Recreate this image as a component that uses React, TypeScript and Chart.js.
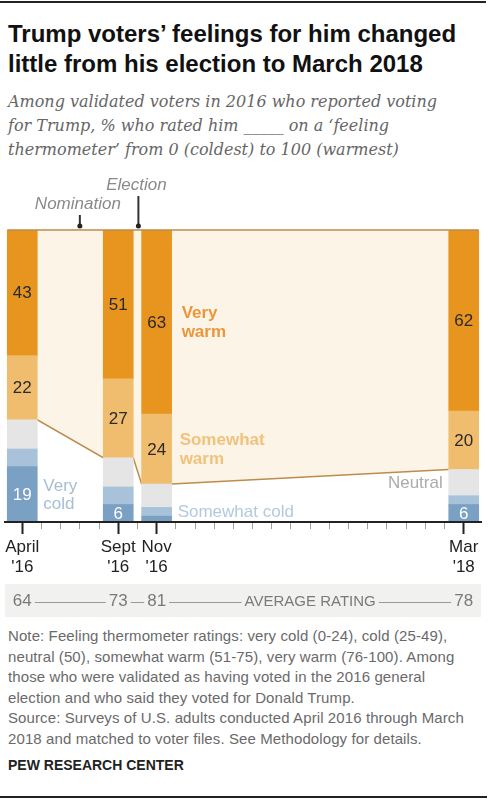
import React, { useEffect, useRef } from "react";
import { Chart, registerables } from "chart.js";

Chart.register(...registerables);

// ---- data ----
const surveyMonths = [3, 8, 10, 26]; // months since Jan 2016
const tickLabels = [["April", "'16"], ["Sept", "'16"], ["Nov", "'16"], ["Mar", "'18"]];
const veryCold = [19, 6, 2, 6];
const cold = [6, 6, 3, 3];
const neutral = [10, 10, 8, 9];
const somewhatWarm = [22, 27, 24, 20];
const veryWarm = [43, 51, 63, 62];
const averageRating = [64, 73, 81, 78];
const averageLabel = "AVERAGE RATING";
const nominationMonth = 6;
const electionMonth = 9.05;

// ---- layout / style ----
const CANVAS_W = 488;
const CANVAS_H = 450;
const PAD_L = 5;
const PAD_R = 7;
const X_MIN = 2.1;
const X_MAX = 26.9;
const BAR_PX = 30;
const PX_PER_UNIT = (CANVAS_W - PAD_L - PAD_R) / (X_MAX - X_MIN);
const HALF = BAR_PX / 2 / PX_PER_UNIT;
const SANS = "'Liberation Sans', Arial, sans-serif";

const series = [
  { label: "Very cold", data: veryCold, color: "#7aa0c3", valueColor: "#ffffff", showValues: true },
  { label: "Somewhat cold", data: cold, color: "#a8c2d9", valueColor: "#333", showValues: false },
  { label: "Neutral", data: neutral, color: "#e5e5e5", valueColor: "#333", showValues: false },
  { label: "Somewhat warm", data: somewhatWarm, color: "#efbd6d", valueColor: "#2a2a2a", showValues: true },
  { label: "Very warm", data: veryWarm, color: "#e8951f", valueColor: "#2a2a2a", showValues: true },
];

const seriesNotes = [
  { si: 4, bar: 2, side: "right", lines: ["Very", "warm"], bold: true, color: "#e9973a", dx: 10 },
  { si: 3, bar: 2, side: "right", lines: ["Somewhat", "warm"], bold: true, color: "#f1c27c", dx: 8 },
  { si: 0, bar: 0, side: "right", lines: ["Very", "cold"], bold: false, color: "#a6bdd3", dx: 6 },
  { si: 1, bar: 2, side: "right", lines: ["Somewhat cold"], bold: false, color: "#b4c9dd", dx: 6 },
  { si: 2, bar: 3, side: "left", lines: ["Neutral"], bold: false, color: "#ababab", dx: 6 },
];

const boundary = surveyMonths.map((_, i) => veryCold[i] + cold[i] + neutral[i]);
const fillPoints: { x: number; y: number }[] = [];
surveyMonths.forEach((m, i) => {
  fillPoints.push({ x: m - HALF, y: boundary[i] });
  fillPoints.push({ x: m + HALF, y: boundary[i] });
});
const monthTicks: number[] = [];
for (let m = surveyMonths[0]; m <= surveyMonths[surveyMonths.length - 1]; m++) monthTicks.push(m);
const isMajor = (v: number) => surveyMonths.indexOf(v) >= 0;

const labelPlugin = {
  id: "segLabels",
  afterDatasetsDraw(chart: any) {
    const ctx = chart.ctx;
    ctx.save();
    ctx.textAlign = "center";
    ctx.textBaseline = "middle";
    ctx.font = `17px ${SANS}`;
    series.forEach((s, di) => {
      if (!s.showValues) return;
      const meta = chart.getDatasetMeta(di);
      meta.data.forEach((el: any, i: number) => {
        const v = s.data[i];
        if (v < 5) return;
        const p = el.getProps(["x", "y", "base"], true);
        ctx.fillStyle = s.valueColor;
        ctx.fillText(String(v), p.x, (p.y + p.base) / 2 + 1);
      });
    });
    seriesNotes.forEach((n) => {
      const el = chart.getDatasetMeta(n.si).data[n.bar];
      const p = el.getProps(["x", "y", "base", "width"], true);
      const cy = (p.y + p.base) / 2;
      ctx.font = `${n.bold ? "bold " : ""}17px ${SANS}`;
      ctx.fillStyle = n.color;
      const lh = 18.5;
      const x = n.side === "right" ? p.x + p.width / 2 + n.dx : p.x - p.width / 2 - n.dx;
      ctx.textAlign = n.side === "right" ? "left" : "right";
      n.lines.forEach((t, k) => {
        ctx.fillText(t, x, cy + (k - (n.lines.length - 1) / 2) * lh + 1);
      });
    });
    const xs = chart.scales.x;
    const top = chart.chartArea.top;
    const events = [
      { name: "Nomination", x: nominationMonth, lineTop: top - 15, textY: top - 26 },
      { name: "Election", x: electionMonth, lineTop: top - 34, textY: top - 45 },
    ];
    events.forEach((e) => {
      const px = xs.getPixelForValue(e.x);
      ctx.strokeStyle = "#333";
      ctx.lineWidth = 2;
      ctx.beginPath();
      ctx.moveTo(px, e.lineTop);
      ctx.lineTo(px, top - 4);
      ctx.stroke();
      ctx.fillStyle = "#222";
      ctx.beginPath();
      ctx.arc(px, top - 4, 2.5, 0, Math.PI * 2);
      ctx.fill();
      ctx.font = `italic 17px ${SANS}`;
      ctx.fillStyle = "#8a8a8a";
      ctx.textAlign = "center";
      ctx.fillText(e.name, px - 2, e.textY);
    });
    ctx.restore();
  },
};

const bandPlugin = {
  id: "ratingBand",
  afterDraw(chart: any) {
    const ctx = chart.ctx;
    const xs = chart.scales.x;
    const a = chart.chartArea;
    const top = a.bottom + 62;
    const bot = a.bottom + 95;
    ctx.save();
    ctx.fillStyle = "#f1f1ef";
    ctx.fillRect(a.left, top, a.right - a.left, bot - top);
    const cy = (top + bot) / 2 + 1;
    ctx.textBaseline = "middle";
    ctx.textAlign = "center";
    const items: { text: string; x: number; font: string }[] = [];
    surveyMonths.forEach((m, i) => {
      items.push({ text: String(averageRating[i]), x: xs.getPixelForValue(m), font: `17px ${SANS}` });
    });
    const n = surveyMonths.length;
    const mid = (xs.getPixelForValue(surveyMonths[n - 2]) + xs.getPixelForValue(surveyMonths[n - 1])) / 2;
    items.splice(n - 1, 0, { text: averageLabel, x: mid, font: `15px ${SANS}` });
    const ext: [number, number][] = [];
    items.forEach((it) => {
      ctx.font = it.font;
      ctx.fillStyle = "#7a7a7a";
      ctx.fillText(it.text, it.x, cy);
      const w = ctx.measureText(it.text).width;
      ext.push([it.x - w / 2, it.x + w / 2]);
    });
    ctx.strokeStyle = "#9a9a9a";
    ctx.lineWidth = 1;
    for (let i = 0; i < ext.length - 1; i++) {
      ctx.beginPath();
      ctx.moveTo(ext[i][1] + 3, Math.round(cy) + 0.5);
      ctx.lineTo(ext[i + 1][0] - 3, Math.round(cy) + 0.5);
      ctx.stroke();
    }
    ctx.restore();
  },
};

function ChartBox() {
  const ref = useRef<HTMLCanvasElement | null>(null);
  useEffect(() => {
    if (!ref.current) return;
    Chart.defaults.font.family = SANS;
    const datasets: any[] = series.map((s) => ({
      type: "bar",
      label: s.label,
      data: surveyMonths.map((m, i) => ({ x: m, y: s.data[i] })),
      backgroundColor: s.color,
      borderWidth: 0,
      barThickness: BAR_PX,
      order: 1,
    }));
    datasets.push({
      type: "line",
      label: "warmArea",
      data: fillPoints,
      stack: "fill",
      fill: "end",
      backgroundColor: "#fdf4e8",
      borderColor: "#bd8c4c",
      borderWidth: 1.5,
      pointRadius: 0,
      tension: 0,
      order: 10,
    });
    datasets.push({
      type: "line",
      label: "topLine",
      data: [
        { x: surveyMonths[0] - HALF, y: 100 },
        { x: surveyMonths[surveyMonths.length - 1] + HALF, y: 100 },
      ],
      stack: "top",
      fill: false,
      borderColor: "#bd8c4c",
      borderWidth: 1.5,
      pointRadius: 0,
      clip: false,
      order: 0,
    });
    const tickVal = (ctx: any) => (ctx.tick ? ctx.tick.value : NaN);
    const chart = new Chart(ref.current, {
      type: "bar",
      data: { datasets },
      options: {
        animation: false,
        responsive: false,
        devicePixelRatio: 1,
        layout: { padding: { left: PAD_L, right: PAD_R, top: 60, bottom: 0 } },
        plugins: { legend: { display: false }, tooltip: { enabled: false } },
        scales: {
          x: {
            type: "linear",
            min: X_MIN,
            max: X_MAX,
            stacked: true,
            offset: false,
            position: "bottom",
            afterBuildTicks: (s: any) => {
              s.ticks = monthTicks.map((v) => ({ value: v }));
            },
            afterFit: (s: any) => {
              s.height = 98;
            },
            ticks: {
              callback: (v: any) => {
                const k = surveyMonths.indexOf(Number(v));
                return k >= 0 ? tickLabels[k] : "";
              },
              autoSkip: false,
              maxRotation: 0,
              padding: 3,
              color: "#222",
              font: { size: 17, family: SANS, lineHeight: 1.2 },
            },
            grid: {
              drawOnChartArea: false,
              offset: false,
              tickLength: 12,
              tickWidth: (c: any) => (isMajor(tickVal(c)) ? 2 : 1),
              tickColor: (c: any) => (isMajor(tickVal(c)) ? "#222" : "#a0a0a0"),
              tickBorderDash: (c: any) => (isMajor(tickVal(c)) ? [] : [6, 40]),
            },
            border: { display: true, color: "#222", width: 2, z: 1 },
          },
          y: { display: false, min: 0, max: 100, stacked: true },
        },
      } as any,
      plugins: [labelPlugin, bandPlugin],
    } as any);
    return () => chart.destroy();
  }, []);
  return <canvas ref={ref} width={CANVAS_W} height={CANVAS_H} style={{ display: "block", width: CANVAS_W, height: CANVAS_H }} />;
}

export default function App() {
  return (
    <div style={{ position: "absolute", left: 0, top: 0, width: 488, height: 800, background: "#fff", overflow: "hidden" }}>
      <div style={{ position: "absolute", left: 0, top: 1, width: 486, height: 2, background: "#222" }} />
      <div
        style={{
          position: "absolute",
          left: 8,
          top: 19,
          fontFamily: SANS,
          fontWeight: "bold",
          fontSize: 24,
          lineHeight: "30px",
          color: "#111",
          whiteSpace: "nowrap",
        }}
      >
        Trump voters’ feelings for him changed
        <br />
        little from his election to March 2018
      </div>
      <div
        style={{
          position: "absolute",
          left: 8,
          top: 90,
          fontFamily: "'DejaVu Serif', serif",
          fontStyle: "italic",
          fontSize: 16,
          lineHeight: "24px",
          color: "#666",
          whiteSpace: "nowrap",
        }}
      >
        Among validated voters in 2016 who reported voting
        <br />
        for Trump, % who rated him _____ on a ‘feeling
        <br />
        thermometer’ from 0 (coldest) to 100 (warmest)
      </div>
      <div style={{ position: "absolute", left: 0, top: 170 }}>
        <ChartBox />
      </div>
      <div
        style={{
          position: "absolute",
          left: 8,
          top: 626,
          fontFamily: SANS,
          fontSize: 15,
          letterSpacing: "0.1px",
          lineHeight: "20.5px",
          color: "#6a6a6a",
          whiteSpace: "nowrap",
        }}
      >
        Note: Feeling thermometer ratings: very cold (0-24), cold (25-49),
        <br />
        neutral (50), somewhat warm (51-75), very warm (76-100). Among
        <br />
        those who were validated as having voted in the 2016 general
        <br />
        election and who said they voted for Donald Trump.
        <br />
        Source: Surveys of U.S. adults conducted April 2016 through March
        <br />
        2018 and matched to voter files. See Methodology for details.
      </div>
      <div
        style={{
          position: "absolute",
          left: 8,
          top: 757,
          fontFamily: SANS,
          fontWeight: "bold",
          fontSize: 14,
          lineHeight: "17px",
          color: "#222",
          whiteSpace: "nowrap",
        }}
      >
        PEW RESEARCH CENTER
      </div>
      <div style={{ position: "absolute", left: 0, top: 796, width: 487, height: 2, background: "#222" }} />
    </div>
  );
}
